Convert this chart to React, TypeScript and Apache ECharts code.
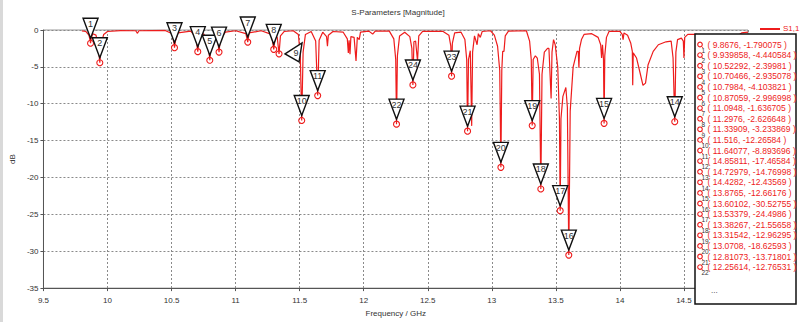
import React, { useEffect, useRef } from "react";
import * as echarts from "echarts";

// S1,1 magnitude curve (GHz, dB)
const freqGHz = [
  9.8, 9.83, 9.855, 9.864, 9.8676, 9.872, 9.885, 9.91, 9.928, 9.939858, 9.95, 9.97, 10.0, 10.1,
  10.22, 10.234, 10.245, 10.45, 10.505, 10.518, 10.52292, 10.53, 10.55, 10.65, 10.69, 10.70466,
  10.715, 10.75, 10.785, 10.7984, 10.81, 10.84, 10.862, 10.87059, 10.88, 10.92, 11.0, 11.08,
  11.0948, 11.105, 11.2, 11.28, 11.2976, 11.31, 11.325, 11.33909, 11.35, 11.38, 11.45, 11.49,
  11.505, 11.516, 11.527, 11.545, 11.59, 11.625, 11.64077, 11.652, 11.68, 11.71, 11.717, 11.724,
  11.76, 11.84, 11.872, 11.88, 11.886, 11.893, 11.9, 11.925, 11.94, 11.95, 11.965, 11.975, 12.04,
  12.07, 12.09, 12.2, 12.235, 12.25, 12.25614, 12.263, 12.28, 12.32, 12.36, 12.376, 12.384,
  12.392, 12.405, 12.42, 12.43, 12.46, 12.62, 12.665, 12.68, 12.686, 12.692, 12.71, 12.76, 12.79,
  12.804, 12.81073, 12.818, 12.832, 12.843, 12.85, 12.865, 12.885, 12.895, 12.91, 12.925, 12.99,
  13.02, 13.045, 13.062, 13.0708, 13.078, 13.085, 13.095, 13.105, 13.13, 13.27, 13.295, 13.308,
  13.31542, 13.323, 13.34, 13.355, 13.372, 13.38267, 13.392, 13.41, 13.435, 13.446, 13.463, 13.47,
  13.482, 13.495, 13.515, 13.528, 13.53379, 13.54, 13.555, 13.578, 13.59, 13.60102, 13.612,
  13.635, 13.665, 13.675, 13.68, 13.685, 13.7, 13.72, 13.78, 13.83, 13.85, 13.857, 13.864, 13.872,
  13.8765, 13.882, 13.895, 13.915, 14.0, 14.018, 14.025, 14.032, 14.06, 14.085, 14.097, 14.1,
  14.104, 14.13, 14.16, 14.18, 14.2, 14.22, 14.26, 14.3, 14.36, 14.4, 14.415, 14.4282, 14.437,
  14.45, 14.48, 14.495, 14.5, 14.506, 14.53, 14.6, 14.68, 14.715, 14.72979, 14.745, 14.78, 14.83,
  14.85, 14.85811, 14.868, 14.9, 14.95, 15.0,
];
const s11dB = [
  -0.12, -0.2, -0.7, -1.4, -1.790075, -1.2, -0.5, -0.7, -2.2, -4.440584, -2.0, -0.6, -0.2, -0.08,
  -0.1, -0.45, -0.1, -0.06, -0.5, -1.7, -2.39981, -1.5, -0.4, -0.15, -1.0, -2.935078,
  -1.1, -0.5, -1.6, -4.103821, -1.5, -0.7, -1.6, -2.996998, -1.2, -0.3, -0.1, -0.5,
  -1.636705, -0.4, -0.1, -0.6, -2.626648, -0.9, -1.0, -3.233869, -0.8, -0.2, -0.1, -0.6,
  -3.5, -12.26584, -3.0, -0.6, -0.2, -1.5, -8.893696, -1.4, -0.3, -0.9, -2.2, -0.7,
  -0.2, -0.3, -1.2, -3.1, -1.4, -3.3, -0.9, -1.0, -4.2, -1.0, -1.3, -0.3, -0.15,
  -0.55, -0.15, -0.15, -1.2, -4.0, -12.76531, -3.5, -0.8, -0.3, -0.9, -2.5, -7.45,
  -1.6, -1.5, -4.2, -0.8, -0.2, -0.2, -0.7, -2.2, -6.26, -1.8, -0.4, -0.3, -1.3,
  -4.0, -13.71801, -4.0, -2.8, -13.0, -3.0, -0.8, -2.0, -0.5, -1.0, -0.2, -0.1,
  -0.7, -2.2, -5.5, -18.62593, -5.5, -2.9, -2.9, -0.8, -0.15, -0.1, -1.5, -4.0,
  -12.96295, -4.0, -3.5, -3.8, -6.0, -21.55658, -6.0, -3.0, -2.5, -2.5, -9.3, -3.0,
  -1.3, -2.0, -5.1, -12.0, -24.4986, -12.0, -9.0, -7.8, -10.5, -30.52755, -11.0,
  -5.0, -2.9, -2.9, -5.1, -2.5, -1.3, -0.6, -0.5, -1.0, -2.0, -3.8, -2.0, -4.0,
  -12.66176, -3.5, -1.0, -0.2, -0.2, -0.6, -1.3, -0.4, -0.7, -1.8, -2.9, -7.5,
  -3.1, -3.8, -6.0, -7.5, -7.2, -4.7, -2.9, -2.0, -1.6, -1.5, -3.8, -12.43569, -3.0,
  -1.3, -1.1, -1.5, -3.8, -1.0, -0.6, -0.6, -2.0, -5.0, -14.76998, -4.0, -1.5, -3.0,
  -7.0, -17.46584, -5.0, -1.0, -0.4, -0.3,
];

// markers
const markerLabels = [
  "1", "2", "3", "4", "5", "6", "7", "8", "9", "10", "11", "12",
  "13", "14", "15", "16", "17", "18", "19", "20", "21", "22", "23", "24",
];
const markerFreq = [
  9.8676, 9.939858, 10.52292, 10.70466, 10.7984, 10.87059, 11.0948, 11.2976, 11.33909, 11.516,
  11.64077, 14.85811, 14.72979, 14.4282, 13.8765, 13.60102, 13.53379, 13.38267, 13.31542, 13.0708,
  12.81073, 12.25614, 12.686, 12.384,
];
const markerDb = [
  -1.790075, -4.440584, -2.39981, -2.935078, -4.103821, -2.996998, -1.636705, -2.626648,
  -3.233869, -12.26584, -8.893696, -17.46584, -14.76998, -12.43569, -12.66176, -30.52755,
  -24.4986, -21.55658, -12.96295, -18.62593, -13.71801, -12.76531, -6.26, -7.45,
];
const legendCount = 22;

const FONT = "'Liberation Sans', Arial, sans-serif";
const RED = "#ee1c1c";
const BOX_X = 695;

export default function App() {
  const ref = useRef<HTMLDivElement>(null);
  useEffect(() => {
    if (!ref.current) return;
    const chart = echarts.init(ref.current, null, { renderer: "svg" });

    const curve = freqGHz.map((f, i) => [f, s11dB[i]]);
    const markers = markerFreq.map((f, i) => [f, markerDb[i]]);

    const legendEls: any[] = [];
    const boxY = 34, boxW = 101, boxH = 270;
    legendEls.push({
      type: "line", z: 90,
      shape: { x1: 760, y1: 29, x2: 780, y2: 29 },
      style: { stroke: RED, lineWidth: 2 },
    });
    legendEls.push({
      type: "text", z: 90, x: 783, y: 28,
      style: { text: "S1,1", fill: RED, font: `8px ${FONT}`, verticalAlign: "middle" },
    });
    legendEls.push({
      type: "rect", z: 100,
      shape: { x: BOX_X, y: boxY, width: boxW, height: boxH },
      style: { fill: "#fff", stroke: "#111", lineWidth: 1.5 },
    });
    for (let i = 0; i < legendCount; i++) {
      const y = 44.5 + i * 10.6;
      legendEls.push({
        type: "circle", z: 101,
        shape: { cx: 700, cy: y, r: 2.3 },
        style: { fill: "none", stroke: RED, lineWidth: 1.1 },
      });
      legendEls.push({
        type: "line", z: 101,
        shape: { x1: 701.5, y1: y + 1.8, x2: 703, y2: y + 3.4 },
        style: { stroke: RED, lineWidth: 1 },
      });
      legendEls.push({
        type: "text", z: 101, x: 701.5, y: y + 5.8,
        style: { text: markerLabels[i], fill: "#333", font: `6.5px ${FONT}`, verticalAlign: "middle" },
      });
      legendEls.push({
        type: "text", z: 101, x: 707.5, y: y,
        style: {
          text: `( ${markerFreq[i]}, ${markerDb[i]} )`,
          fill: RED, font: `8.5px ${FONT}`, verticalAlign: "middle",
        },
      });
    }
    legendEls.push({
      type: "text", z: 101, x: 711, y: 290,
      style: { text: "...", fill: "#333", font: `8px ${FONT}`, verticalAlign: "middle" },
    });
    legendEls.push({
      type: "rect", z: 100,
      shape: { x: 0, y: 0, width: 3, height: 322 },
      style: { fill: "#d9d9d9" },
    });

    chart.setOption({
      animation: false,
      backgroundColor: "#fff",
      title: {
        text: "S-Parameters [Magnitude]",
        left: 393, top: 3, textAlign: "center",
        textStyle: { fontFamily: FONT, fontSize: 8, fontWeight: "normal", color: "#333" },
      },
      grid: {
        left: 38, right: 52, top: 30, bottom: 29,
        show: true, borderColor: "#9a9a9a", borderWidth: 1, backgroundColor: "transparent",
      },
      xAxis: {
        type: "value", min: 9.5, max: 15, interval: 0.5,
        name: "Frequency / GHz", nameLocation: "middle", nameGap: 19,
        nameTextStyle: { fontFamily: FONT, fontSize: 8, color: "#333" },
        axisLine: { show: true, onZero: false, lineStyle: { color: "#555", width: 1 } },
        axisTick: { show: true, length: 3, lineStyle: { color: "#555" } },
        axisLabel: { fontFamily: FONT, fontSize: 8, color: "#333", margin: 8 },
        splitLine: { show: true, lineStyle: { color: "#8a8a8a", type: [2, 2], width: 1 } },
      },
      yAxis: {
        type: "value", min: -35, max: 0, interval: 5,
        name: "dB", nameLocation: "middle", nameGap: 23, nameRotate: 90,
        nameTextStyle: { fontFamily: FONT, fontSize: 8, color: "#333" },
        axisLine: { show: true, onZero: false, lineStyle: { color: "#555", width: 1 } },
        axisTick: { show: true, length: 3, lineStyle: { color: "#555" } },
        axisLabel: { fontFamily: FONT, fontSize: 8, color: "#333", margin: 5 },
        splitLine: { show: true, lineStyle: { color: "#8a8a8a", type: [2, 2], width: 1 } },
      },
      series: [
        {
          type: "line", name: "S1,1", data: curve, showSymbol: false, symbol: "none",
          lineStyle: { color: RED, width: 1.2 }, z: 2, clip: true,
        },
        {
          type: "custom", name: "markers", data: markers, z: 5, clip: false,
          renderItem: (params: any, api: any) => {
            const p = api.coord([api.value(0), api.value(1)]);
            const cx = p[0], cy = p[1];
            const label = markerLabels[params.dataIndex];
            const hidden = cx > BOX_X - 4;
            const children: any[] = [];
            if (label === "9") {
              children.push({
                type: "polygon",
                shape: { points: [[cx + 6, cy], [cx + 23, cy - 11], [cx + 20, cy + 8]] },
                style: { fill: "#fff", stroke: "#111", lineWidth: 1.4 },
              });
              children.push({
                type: "text",
                style: {
                  text: label, x: cx + 17, y: cy - 1, align: "center", verticalAlign: "middle",
                  font: `9px ${FONT}`, fill: "#333",
                },
              });
            } else {
              children.push({
                type: "polygon",
                shape: { points: [[cx - 7.5, cy - 25], [cx + 7.5, cy - 25], [cx, cy - 5]] },
                style: { fill: "#fff", stroke: "#111", lineWidth: 1.4 },
              });
              if (!hidden) {
                children.push({
                  type: "text",
                  style: {
                    text: label, x: cx, y: cy - 19.5, align: "center", verticalAlign: "middle",
                    font: `9px ${FONT}`, fill: "#333",
                  },
                });
              }
            }
            children.push({
              type: "circle",
              shape: { cx, cy, r: 3 },
              style: { fill: "none", stroke: RED, lineWidth: 1.1 },
            });
            return { type: "group", children };
          },
        },
      ],
      graphic: legendEls,
    });
    return () => chart.dispose();
  }, []);
  return (
    <div
      ref={ref}
      style={{ position: "fixed", left: 0, top: 0, width: 800, height: 322 }}
    />
  );
}
